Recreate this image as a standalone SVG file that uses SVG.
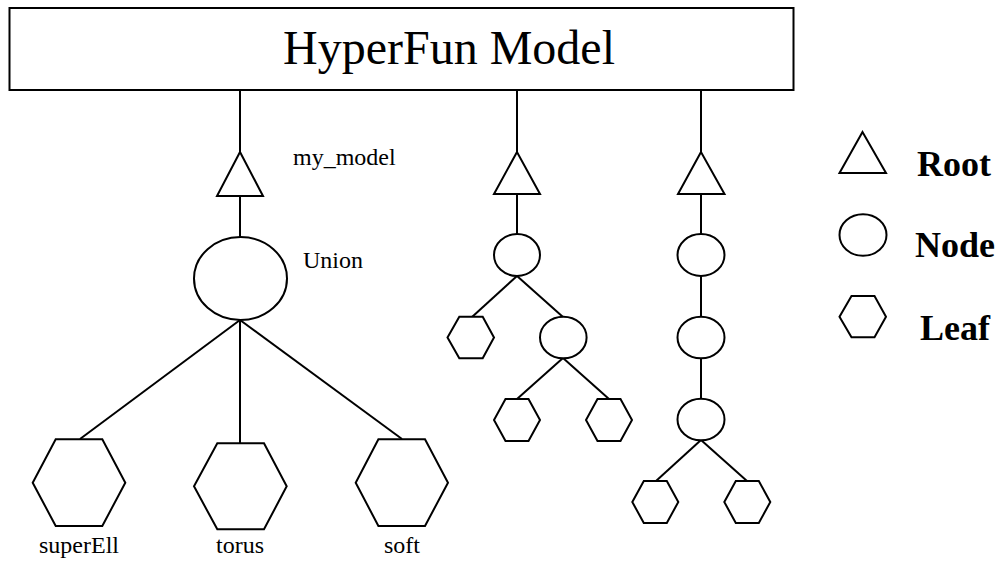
<svg xmlns="http://www.w3.org/2000/svg" width="997" height="561" viewBox="0 0 997 561">
<style>
.s{fill:#fff;stroke:#000;stroke-width:2}
.c line{stroke:#000;stroke-width:2}
.ttl{font-family:"Liberation Serif","Times New Roman",serif;font-size:48px;fill:#000}
.lbl{font-family:"Liberation Serif","Times New Roman",serif;font-size:24px;fill:#000}
.leg{font-family:"Liberation Serif","Times New Roman",serif;font-size:36px;font-weight:bold;fill:#000}
</style>
<rect width="997" height="561" fill="#fff"/>
<g id="connectors" class="c">
<line x1="240" y1="90" x2="240" y2="152"/>
<line x1="240" y1="196" x2="240" y2="237"/>
<line x1="240" y1="320" x2="80" y2="439"/>
<line x1="240" y1="320" x2="240" y2="443"/>
<line x1="240" y1="320" x2="402" y2="439"/>
<line x1="517" y1="90" x2="517" y2="152"/>
<line x1="517" y1="194" x2="517" y2="234"/>
<line x1="517" y1="276" x2="472" y2="317"/>
<line x1="517" y1="276" x2="563" y2="317"/>
<line x1="563" y1="358" x2="517" y2="399"/>
<line x1="563" y1="358" x2="609" y2="399"/>
<line x1="701" y1="90" x2="701" y2="152"/>
<line x1="701" y1="194" x2="701" y2="234"/>
<line x1="701" y1="276" x2="701" y2="317"/>
<line x1="701" y1="358" x2="701" y2="399"/>
<line x1="701" y1="440" x2="656" y2="481"/>
<line x1="701" y1="440" x2="747" y2="481"/>
</g>
<g id="model">
<rect class="s" x="9.5" y="8" width="784" height="82"/>
<text class="ttl" x="283" y="64">HyperFun Model</text>
</g>
<g id="root1">
<polygon class="s" points="240,152 217,196 263,196"/>
<text class="lbl" x="293" y="165">my_model</text>
</g>
<g id="union">
<ellipse class="s" cx="240.5" cy="278.5" rx="46.5" ry="41.5"/>
<text class="lbl" x="303" y="268">Union</text>
</g>
<g id="superEll">
<polygon class="s" points="55.7,439.3 102.3,439.3 125.3,482.7 102.3,526 55.7,526 32.7,482.7"/>
<text class="lbl" x="79" y="553" text-anchor="middle">superEll</text>
</g>
<g id="torus">
<polygon class="s" points="217.3,443.3 264,443.3 286.7,486.3 264,529.3 217.3,529.3 194,486.3"/>
<text class="lbl" x="240" y="553" text-anchor="middle">torus</text>
</g>
<g id="soft">
<polygon class="s" points="378.4,439.3 425,439.3 448,482.7 425,526 378.4,526 355.7,482.7"/>
<text class="lbl" x="402" y="553" text-anchor="middle">soft</text>
</g>
<g id="root2"><polygon class="s" points="517,152 494,194 540,194"/></g>
<g id="node2a"><ellipse class="s" cx="517" cy="255" rx="23" ry="21"/></g>
<g id="leaf2a"><polygon class="s" points="459.3,316.7 482.7,316.7 494,337.5 482.7,358.3 459.3,358.3 447.5,337.5"/></g>
<g id="node2b"><ellipse class="s" cx="563.3" cy="337.5" rx="23.3" ry="20.8"/></g>
<g id="leaf2b"><polygon class="s" points="505.5,399 528.5,399 540,420 528.5,441 505.5,441 494,420"/></g>
<g id="leaf2c"><polygon class="s" points="597.5,399 620.5,399 632,420 620.5,441 597.5,441 586,420"/></g>
<g id="root3"><polygon class="s" points="701,152 678,194 724.5,194"/></g>
<g id="node3a"><ellipse class="s" cx="701" cy="255" rx="23.5" ry="21"/></g>
<g id="node3b"><ellipse class="s" cx="701" cy="337.5" rx="23.5" ry="20.8"/></g>
<g id="node3c"><ellipse class="s" cx="701" cy="419.5" rx="23.5" ry="20.8"/></g>
<g id="leaf3a"><polygon class="s" points="643.8,481 666.8,481 678.3,502 666.8,523 643.8,523 632.3,502"/></g>
<g id="leaf3b"><polygon class="s" points="735.8,481 758.8,481 770.3,502 758.8,523 735.8,523 724.3,502"/></g>
<g id="legend-root">
<polygon class="s" points="862.5,132 839.5,173 886,173"/>
<text class="leg" x="917" y="176">Root</text>
</g>
<g id="legend-node">
<ellipse class="s" cx="863" cy="235" rx="23.5" ry="20.8"/>
<text class="leg" x="915" y="257">Node</text>
</g>
<g id="legend-leaf">
<polygon class="s" points="851.5,296 874.5,296 886,316.7 874.5,337.3 851.5,337.3 839.5,316.7"/>
<text class="leg" x="920" y="340">Leaf</text>
</g>
</svg>
